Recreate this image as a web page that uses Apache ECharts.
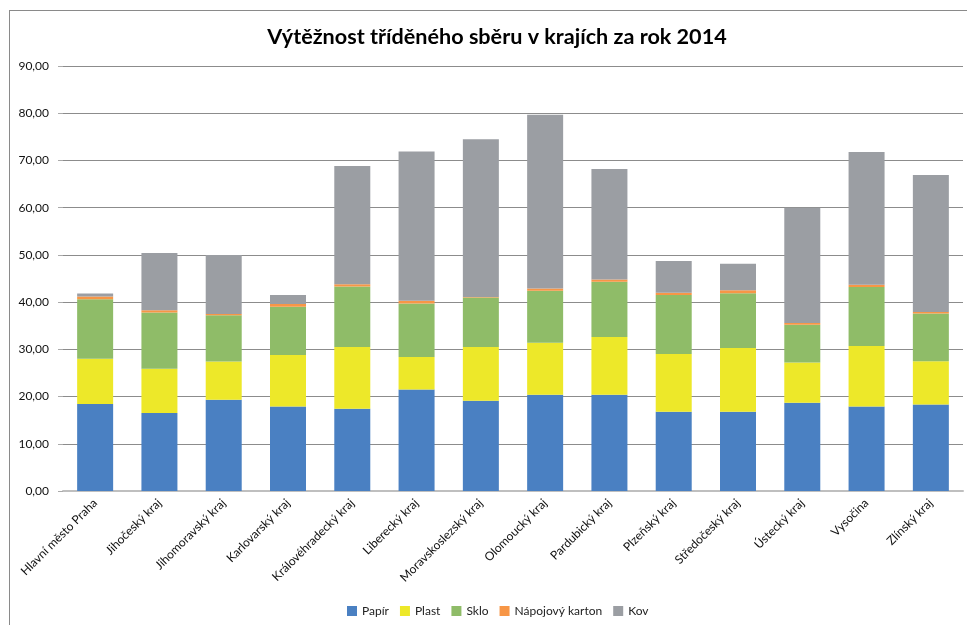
<!DOCTYPE html>
<html>
<head>
<meta charset="utf-8">
<script src="https://cdn.jsdelivr.net/npm/echarts@6/dist/echarts.min.js"></script>
<style>
  html, body { margin: 0; padding: 0; background: #fff; }
  #frame { position: absolute; left: 9px; top: 10px; width: 970px; height: 630px;
           border-top: 1px solid #8a8a8a; border-left: 1px solid #8a8a8a; }
  #chart { position: absolute; left: 0; top: 0; width: 967px; height: 625px; }
</style>
</head>
<body>
<div id="frame"></div>
<div id="chart"></div>
<script>
const regions = ['Hlavní město Praha', 'Jihočeský kraj', 'Jihomoravský kraj', 'Karlovarský kraj',
  'Královéhradecký kraj', 'Liberecký kraj', 'Moravskoslezský kraj', 'Olomoucký kraj',
  'Pardubický kraj', 'Plzeňský kraj', 'Středočeský kraj', 'Ústecký kraj', 'Vysočina', 'Zlínský kraj']

const papir = [18.4, 16.5, 19.3, 17.9, 17.4, 21.5, 19.1, 20.4, 20.4, 16.8, 16.8, 18.7, 17.9, 18.3]
const plast = [9.6, 9.4, 8.1, 10.9, 13.1, 6.9, 11.4, 11.0, 12.2, 12.2, 13.5, 8.5, 12.8, 9.2]
const sklo = [12.6, 11.9, 9.8, 10.2, 12.8, 11.3, 10.5, 11.0, 11.7, 12.5, 11.6, 8.0, 12.5, 10.1]
const karton = [0.6, 0.5, 0.3, 0.6, 0.5, 0.6, 0.1, 0.5, 0.5, 0.5, 0.6, 0.4, 0.5, 0.3]
const kov = [0.6, 12.1, 12.5, 1.9, 25.0, 31.6, 33.4, 36.8, 23.4, 6.7, 5.6, 24.4, 28.1, 29.0]

const seriesDefs = [
  { name: 'Papír', data: papir, color: '#4a80c2' },
  { name: 'Plast', data: plast, color: '#ede829' },
  { name: 'Sklo', data: sklo, color: '#8fbc68' },
  { name: 'Nápojový karton', data: karton, color: '#f79646' },
  { name: 'Kov', data: kov, color: '#9b9ea3' }
]

const font = 'Lato, "Open Sans", sans-serif'
const chart = echarts.init(document.getElementById('chart'))

const option = {
  animation: false,
  textStyle: { fontFamily: font },
  title: {
    text: 'Výtěžnost tříděného sběru v krajích za rok 2014',
    left: 492,
    textAlign: 'center',
    top: 21,
    textStyle: { fontFamily: font, fontSize: 21.6, fontWeight: 'bold', color: '#000' }
  },
  legend: {
    bottom: 3,
    left: 342,
    itemWidth: 10,
    itemHeight: 10,
    itemGap: 11,
    icon: 'rect',
    textStyle: { fontFamily: font, fontSize: 12, color: '#222' },
    data: seriesDefs.map(s => s.name)
  },
  grid: {
    left: 63,
    right: 4,
    top: 66,
    bottom: 134
  },
  xAxis: {
    type: 'category',
    data: regions,
    axisTick: { show: false },
    axisLine: { lineStyle: { color: '#bfbfbf', width: 2 } },
    axisLabel: {
      rotate: 45,
      interval: 0,
      margin: 10,
      fontSize: 12,
      color: '#111',
      fontFamily: font
    }
  },
  yAxis: {
    type: 'value',
    min: 0,
    max: 90,
    interval: 10,
    axisLine: { show: false },
    axisTick: { show: true, length: 5, lineStyle: { color: '#aaa' } },
    axisLabel: {
      margin: 14,
      fontSize: 12,
      color: '#111',
      fontFamily: font,
      formatter: v => v.toFixed(2).replace('.', ',')
    },
    splitLine: { lineStyle: { color: '#8c8c8c', width: 1 } }
  },
  series: seriesDefs.map(s => ({
    name: s.name,
    type: 'bar',
    stack: 'All',
    data: s.data,
    barWidth: 36,
    itemStyle: { color: s.color }
  }))
}

chart.setOption(option)
</script>
</body>
</html>
